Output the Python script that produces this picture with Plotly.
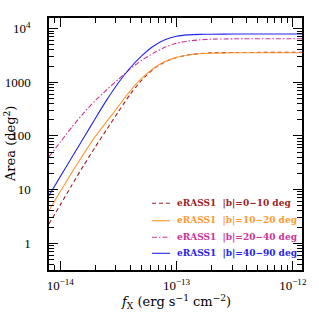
import plotly.graph_objects as go

# ---- data ----
flux = [8e-15, 1e-14, 1.259e-14, 1.585e-14, 1.995e-14, 2.512e-14, 3.162e-14,
        3.981e-14, 5.012e-14, 6.310e-14, 7.943e-14, 1e-13, 1.259e-13,
        1.585e-13, 1.995e-13, 3.162e-13, 1.2e-12]
area_b0_10 = [2.29, 5.18, 12.1, 27.9, 61.7, 132, 282, 589, 1096, 1758,
              2399, 2897, 3236, 3428, 3524, 3581, 3597]
area_b10_20 = [4.07, 9.16, 20.9, 45.7, 96.6, 186, 357, 684, 1175, 1799,
               2427, 2904, 3221, 3388, 3475, 3532, 3540]
area_b20_40 = [41.0, 76.7, 146, 266, 452, 724, 1135, 1758, 2570, 3467,
               4467, 5333, 5848, 6166, 6339, 6442, 6457]
area_b40_90 = [7.76, 17.4, 39.8, 91.2, 209, 468, 977, 1841, 3090, 4677,
               6166, 7211, 7638, 7798, 7852, 7907, 7907]

series_names = ["eRASS1&nbsp;&nbsp;|b|=0\u221210 deg",
                "eRASS1&nbsp;&nbsp;|b|=10\u221220 deg",
                "eRASS1&nbsp;&nbsp;|b|=20\u221240 deg",
                "eRASS1&nbsp;&nbsp;|b|=40\u221290 deg"]
series_values = [area_b0_10, area_b10_20, area_b20_40, area_b40_90]
colors = ["#9e1f28", "#ff9a30", "#cc3399", "#2424f0"]
dashes = ["4px,3px", "solid", "5px,2px,1.5px,2px", "solid"]

x_tickvals = [1e-14, 1e-13, 1e-12]
x_ticktext = ["10<sup>\u221214</sup>", "10<sup>\u221213</sup>", "10<sup>\u221212</sup>"]
y_tickvals = [1, 10, 100, 1000, 10000]
y_ticktext = ["1", "10", "100", "1000", "10<sup>4</sup>"]

x_minor = [m * 10.0 ** e for e in (-15, -14, -13) for m in range(2, 10)]
y_minor = [m * 10.0 ** e for e in (-1, 0, 1, 2, 3, 4) for m in range(2, 10)]

FONT = "Liberation Serif"
TITLE_FONT = "DejaVu Serif"
LEG_FONT = "DejaVu Serif"

fig = go.Figure()
for name, vals, c, d in zip(series_names, series_values, colors, dashes):
    fig.add_trace(go.Scatter(
        x=flux, y=vals, mode="lines",
        line=dict(color=c, width=1.1, dash=d, shape="spline", smoothing=0.6),
        name=name, showlegend=False,
    ))

# legend drawn as text + sample lines (paper coordinates)
leg_rows = [0.2647, 0.1956, 0.1298, 0.0663]
for name, c, d, yr in zip(series_names, colors, dashes, leg_rows):
    fig.add_shape(type="line", xref="paper", yref="paper",
                  x0=0.407, x1=0.478, y0=yr, y1=yr,
                  line=dict(color=c, width=1.1, dash=d))
    fig.add_annotation(text=f"<b>{name}</b>", showarrow=False,
                       xref="paper", yref="paper", x=0.498, y=yr,
                       xanchor="left", yanchor="middle",
                       font=dict(family=LEG_FONT, size=9, color=c))

axis_common = dict(
    type="log", showgrid=False, zeroline=False, automargin=False,
    showline=True, linecolor="black", linewidth=1.5, mirror="allticks",
    ticks="inside", ticklen=9, tickwidth=1, tickcolor="black",
    tickfont=dict(family=FONT, size=13, color="black"),
)

fig.update_xaxes(
    **axis_common,
    range=[-14.097, -11.921],
    tickmode="array", tickvals=x_tickvals, ticktext=x_ticktext,
    minor=dict(tickmode="array", tickvals=x_minor, ticks="inside", ticklen=5,
               tickcolor="black", tickwidth=1, showgrid=False),
    ticklabelstandoff=3,
)
fig.update_yaxes(
    **axis_common,
    range=[-0.5, 4.197],
    tickmode="array", tickvals=y_tickvals, ticktext=y_ticktext,
    minor=dict(tickmode="array", tickvals=y_minor, ticks="inside", ticklen=5,
               tickcolor="black", tickwidth=1, showgrid=False),
    ticklabelstandoff=14,
)

fig.add_annotation(
    text="Area (deg<sup>2</sup>)", textangle=-90, showarrow=False,
    xref="paper", yref="paper", x=-0.154, y=0.5, xanchor="center", yanchor="middle",
    font=dict(family=TITLE_FONT, size=13, color="black"),
)
fig.add_annotation(
    text="<i>f</i><sub>X</sub> (erg s<sup>\u22121</sup> cm<sup>\u22122</sup>)",
    showarrow=False, xref="paper", yref="paper", x=0.5, y=-0.127,
    xanchor="center", yanchor="middle",
    font=dict(family=TITLE_FONT, size=13, color="black"),
)

fig.update_layout(
    width=319, height=319,
    margin=dict(l=49, r=17, t=18, b=49),
    paper_bgcolor="white", plot_bgcolor="white",
    showlegend=False,
)

fig.write_html("out.html", config={"displayModeBar": False},
               post_script="document.body.style.margin='0';document.body.style.padding='0';")
